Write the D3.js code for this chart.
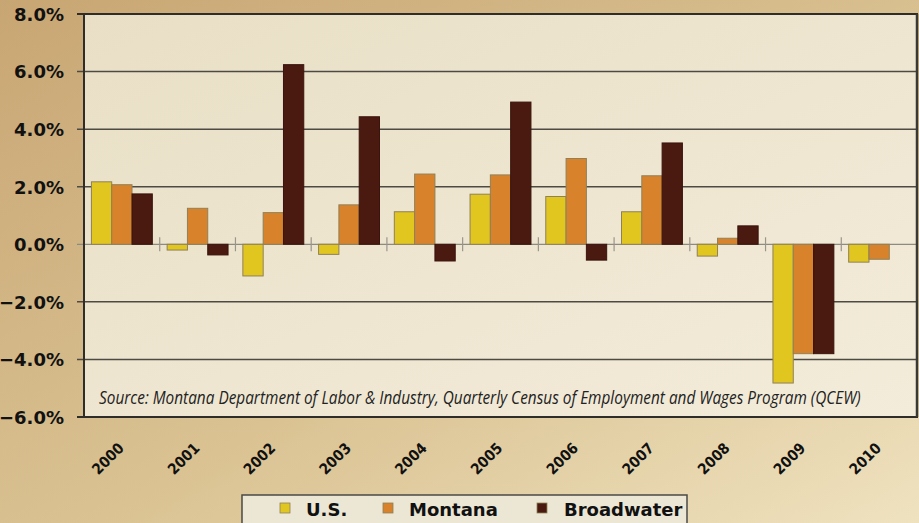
<!DOCTYPE html>
<html><head><meta charset="utf-8">
<script src="https://cdn.jsdelivr.net/npm/d3@7"></script>
<style>html,body{margin:0;padding:0;overflow:hidden;}</style>
</head><body>
<script>
const years = ["2000","2001","2002","2003","2004","2005","2006","2007","2008","2009","2010"];
const seriesNames = ["U.S.","Montana","Broadwater"];
const usValues = [2.17,-0.20,-1.10,-0.35,1.13,1.74,1.66,1.13,-0.41,-4.82,-0.62];
const montanaValues = [2.07,1.25,1.10,1.37,2.44,2.41,2.98,2.38,0.21,-3.80,-0.52];
const broadwaterValues = [1.75,-0.37,6.24,4.43,-0.58,4.94,-0.55,3.52,0.64,-3.80,null];
const yTicks = [8,6,4,2,0,-2,-4,-6];
const colors = ["#e2c620","#d8832b","#4a1910"];
const sourceText = "Source: Montana Department of Labor & Industry, Quarterly Census of Employment and Wages Program (QCEW)";

const W = 919, H = 523;
const svg = d3.select("body").append("svg").attr("width", W).attr("height", H);
const defs = svg.append("defs");
const bg = defs.append("linearGradient").attr("id","bg").attr("x1","0").attr("y1","0").attr("x2","1").attr("y2","1");
bg.append("stop").attr("offset","0").attr("stop-color","#c8a673");
bg.append("stop").attr("offset","0.55").attr("stop-color","#dac292");
bg.append("stop").attr("offset","1").attr("stop-color","#efe2bf");
svg.append("rect").attr("width",W).attr("height",H).attr("fill","url(#bg)");

const pl = 84, pr = 917, pt = 14, pb = 417;
const y = d3.scaleLinear().domain([-6,8]).range([pb,pt]);
const x0 = d3.scaleBand().domain(years).range([pl,pr]).padding(0);
const x1 = d3.scaleBand().domain(seriesNames).range([0,x0.bandwidth()]).paddingInner(0).paddingOuter(0.365);

const pg = defs.append("linearGradient").attr("id","pbg").attr("x1","0").attr("y1","0").attr("x2","1").attr("y2","1");
pg.append("stop").attr("offset","0").attr("stop-color","#e9dfc6");
pg.append("stop").attr("offset","1").attr("stop-color","#f3ecda");
svg.append("rect").attr("x",pl).attr("y",pt).attr("width",pr-pl).attr("height",pb-pt).attr("fill","url(#pbg)");

// grid lines
svg.append("g").selectAll("line").data(yTicks.filter(d=>d!==0 && d!==-6)).join("line")
  .attr("x1",pl-7).attr("x2",pr).attr("y1",d=>y(d)).attr("y2",d=>y(d))
  .attr("stroke","#4d4a44").attr("stroke-width",1.5);

// zero line and category ticks
svg.append("line").attr("x1",pl-7).attr("x2",pr).attr("y1",y(0)).attr("y2",y(0))
  .attr("stroke","#8d8a82").attr("stroke-width",1.2);
svg.append("g").selectAll("line").data(years.slice(1)).join("line")
  .attr("x1",d=>x0(d)).attr("x2",d=>x0(d)).attr("y1",y(0)-7).attr("y2",y(0)+7)
  .attr("stroke","#9a958b").attr("stroke-width",1.2);

// bars
const allSeries = [usValues, montanaValues, broadwaterValues];
const barData = [];
years.forEach((yr,i)=>{
  seriesNames.forEach((s,j)=>{
    const v = allSeries[j][i];
    if (v !== null) barData.push({yr, s, v, j});
  });
});
svg.append("g").selectAll("rect").data(barData).join("rect")
  .attr("x",d=>x0(d.yr)+x1(d.s))
  .attr("width",x1.bandwidth())
  .attr("y",d=>y(Math.max(0,d.v)))
  .attr("height",d=>Math.abs(y(d.v)-y(0)))
  .attr("fill",d=>colors[d.j])
  .attr("stroke",d=>d.j===2?"#3a140c":"#8f8058")
  .attr("stroke-width",1);

// borders
svg.append("line").attr("x1",pl-7).attr("x2",pr+1).attr("y1",pt).attr("y2",pt).attr("stroke","#2f2d2a").attr("stroke-width",2);
svg.append("line").attr("x1",pl-7).attr("x2",pr+1).attr("y1",pb).attr("y2",pb).attr("stroke","#2f2d2a").attr("stroke-width",2);
svg.append("line").attr("x1",pl).attr("x2",pl).attr("y1",pt).attr("y2",pb).attr("stroke","#2f2d2a").attr("stroke-width",2);
svg.append("line").attr("x1",pr).attr("x2",pr).attr("y1",pt).attr("y2",pb).attr("stroke","#3a3835").attr("stroke-width",2.5);

// y labels
const yAxis = d3.axisLeft(y).tickValues(yTicks).tickSize(0).tickPadding(0)
  .tickFormat(d=>d3.format(".1f")(d)+"%");
const ya = svg.append("g").attr("transform",`translate(${pl-20},0)`).call(yAxis);
ya.select(".domain").remove();
ya.selectAll("text").attr("font-family","DejaVu Sans").attr("font-weight","bold")
  .attr("font-size",18).attr("fill","#111").attr("dy","0.35em");

// x labels
svg.append("g").selectAll("text").data(years).join("text")
  .attr("transform",d=>`translate(${x0(d)+x0.bandwidth()/2+3},${449}) rotate(-45)`)
  .attr("text-anchor","end")
  .attr("font-family","DejaVu Sans Condensed").attr("font-weight","bold").attr("font-size",15)
  .attr("fill","#111").text(d=>d);

// source
const src = svg.append("text").attr("x",0).attr("y",0)
  .attr("font-family","Open Sans").attr("font-style","italic").attr("font-size",18.5)
  .attr("fill","#222").text(sourceText);
const natural = src.node().getComputedTextLength();
const sx = 762 / natural;
src.attr("transform",`translate(99,404) scale(${sx},1)`);

// legend
const lg = svg.append("g");
lg.append("rect").attr("x",242).attr("y",495).attr("width",445).attr("height",32)
  .attr("fill","#ece6d4").attr("stroke","#4a4a46").attr("stroke-width",1.5);
const legX = [280, 383, 537];
const legTX = [306, 409, 564];
seriesNames.forEach((s,j)=>{
  lg.append("rect").attr("x",legX[j]).attr("y",503).attr("width",10).attr("height",10)
    .attr("fill",colors[j]).attr("stroke","#8f8058").attr("stroke-width",0.8);
  lg.append("text").attr("x",legTX[j]).attr("y",516)
    .attr("font-family","DejaVu Sans").attr("font-weight","bold").attr("font-size",18)
    .attr("fill","#111").text(s);
});
</script>
</body></html>
